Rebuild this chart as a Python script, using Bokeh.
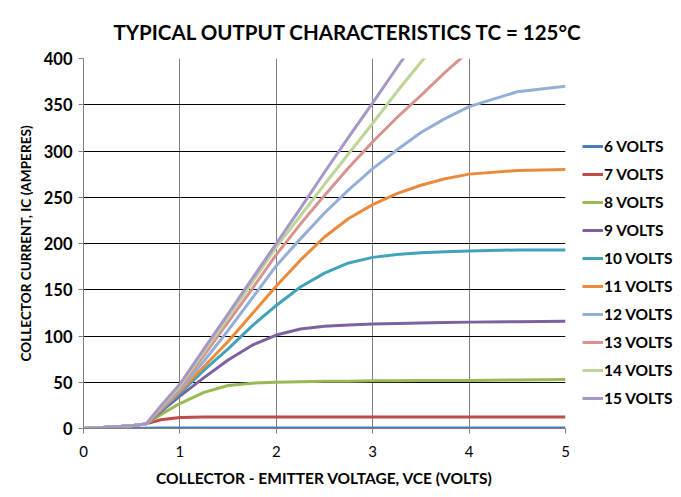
from bokeh.plotting import figure
from bokeh.models import Legend, LegendItem, FixedTicker, Range1d
from bokeh.embed import file_html
from bokeh.resources import INLINE

# ---- data ----
vce = [0, 0.3, 0.5, 0.65, 0.8, 1.0, 1.25, 1.5, 1.75, 2.0, 2.25, 2.5, 2.75,
       3.0, 3.25, 3.5, 3.75, 4.0, 4.5, 5.0]

ic_6v = [0, 0, 0, 0.3, 0.5, 0.5, 0.5, 0.5, 0.5, 0.5, 0.5, 0.5, 0.5,
         0.5, 0.5, 0.5, 0.5, 0.5, 0.5, 0.5]
ic_7v = [0, 1.5, 3, 5, 9.5, 12, 12.5, 12.5, 12.5, 12.5, 12.5, 12.5, 12.5,
         12.5, 12.5, 12.5, 12.5, 12.5, 12.5, 12.5]
ic_8v = [0, 1.5, 3, 5, 15, 27, 39, 46.5, 49, 50, 50.5, 51, 51.2,
         51.5, 51.7, 52, 52, 52, 52.5, 53]
ic_9v = [0, 1.5, 3, 5, 18, 35, 55, 74, 90, 101, 107.5, 110.5, 112,
         113, 113.5, 114, 114.5, 115, 115.5, 116]
ic_10v = [0, 1.5, 3, 5, 19, 38, 63, 86, 111, 133, 153, 168, 179,
          185, 188, 190, 191, 192, 193, 193]
ic_11v = [0, 1.5, 3, 5, 20, 40, 67, 94, 124, 154, 182, 207, 227,
          242, 254, 263, 270, 275, 279, 280]
ic_12v = [0, 1.5, 3, 5, 21, 42, 73, 106, 141, 176, 205, 233, 258,
          281, 301, 320, 335, 348, 364, 370]
ic_13v = [0, 1.5, 3, 5, 22, 44, 79, 115, 151, 188, 221, 252, 282,
          310, 336, 360, 385, 408, 440, 465]
ic_14v = [0, 1.5, 3, 5, 23, 46, 83, 120, 158, 196, 230, 264, 297,
          330, 364, 396, 425, 450, 495, 530]
ic_15v = [0, 1.5, 3, 5, 24, 48, 86, 124, 162, 200, 238, 277, 315,
          352, 390, 427, 455, 485, 535, 575]

series_names = ["6 VOLTS", "7 VOLTS", "8 VOLTS", "9 VOLTS", "10 VOLTS",
                "11 VOLTS", "12 VOLTS", "13 VOLTS", "14 VOLTS", "15 VOLTS"]
series_values = [ic_6v, ic_7v, ic_8v, ic_9v, ic_10v, ic_11v, ic_12v, ic_13v, ic_14v, ic_15v]
series_colors = ["#4A7EBB", "#BE4B48", "#98B954", "#7D60A0", "#40A3B9",
                 "#EC8A3C", "#93AFD8", "#D8928F", "#BED597", "#A797C8"]

x_ticks = [0, 1, 2, 3, 4, 5]
y_ticks = [0, 50, 100, 150, 200, 250, 300, 350, 400]

title_text = "TYPICAL OUTPUT CHARACTERISTICS  TC = 125°C"
x_label = "COLLECTOR - EMITTER VOLTAGE, VCE (VOLTS)"
y_label = "COLLECTOR CURRENT, IC (AMPERES)"

FONT = "Lato"

p = figure(frame_width=482, frame_height=370,
           min_border_left=83, min_border_right=108,
           min_border_top=58, min_border_bottom=61,
           x_range=Range1d(0, 5), y_range=Range1d(0, 400),
           output_backend="svg", toolbar_location=None)
p.outline_line_color = None
p.background_fill_color = "white"
p.border_fill_color = "white"

# title
p.title.text = title_text
p.title.align = "left"
p.title.offset = 30
p.title.standoff = 30
p.title.text_font = FONT
p.title.text_font_style = "bold"
p.title.text_font_size = "20.5px"
p.title.text_color = "black"

# grid
p.xgrid.ticker = FixedTicker(ticks=x_ticks)
p.ygrid.ticker = FixedTicker(ticks=y_ticks)
p.xgrid.grid_line_color = "#7F7F7F"
p.xgrid.grid_line_width = 1
p.ygrid.grid_line_color = "black"
p.ygrid.grid_line_width = 1

# axes
p.xaxis.ticker = FixedTicker(ticks=x_ticks)
p.yaxis.ticker = FixedTicker(ticks=y_ticks)
for ax in (p.xaxis[0], p.yaxis[0]):
    ax.axis_line_color = "#7F7F7F"
    ax.major_tick_line_color = "#7F7F7F"
    ax.major_tick_in = 0
    ax.major_tick_out = 5
    ax.minor_tick_line_color = None
    ax.major_label_text_font = FONT
    ax.major_label_text_color = "black"
    ax.axis_label_text_font = FONT
    ax.axis_label_text_font_style = "bold"
    ax.axis_label_text_color = "black"

p.yaxis.major_label_text_font_style = "bold"
p.yaxis.major_label_text_font_size = "16.5px"
p.xaxis.major_label_text_font_style = "normal"
p.xaxis.major_label_text_font_size = "15px"
p.yaxis.major_label_standoff = 6
p.xaxis.major_label_standoff = 12
p.xaxis.axis_label = x_label
p.yaxis.axis_label = y_label
p.xaxis.axis_label_text_font_size = "15.5px"
p.yaxis.axis_label_text_font_size = "13.6px"
p.yaxis.axis_label_standoff = 7
p.xaxis.axis_label_standoff = 9

items = []
for name, vals, col in zip(series_names, series_values, series_colors):
    r = p.line(vce, vals, line_color=col, line_width=3)
    items.append(LegendItem(label=name, renderers=[r]))

legend = Legend(items=items, location=(17, 20),
                glyph_width=21, glyph_height=20, label_height=20,
                spacing=8, padding=0, margin=0, label_standoff=1,
                label_text_font=FONT, label_text_font_style="bold",
                label_text_font_size="15.5px", label_text_color="black",
                border_line_color=None, background_fill_alpha=0)
p.add_layout(legend, "right")

open("out.html", "w").write(file_html(p, INLINE))
